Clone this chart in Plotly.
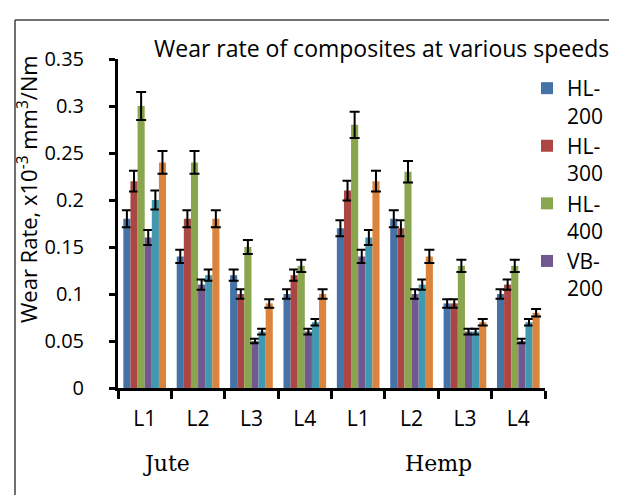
import plotly.graph_objects as go

categories = ["Jute L1", "Jute L2", "Jute L3", "Jute L4", "Hemp L1", "Hemp L2", "Hemp L3", "Hemp L4"]
tick_labels = ["L1", "L2", "L3", "L4", "L1", "L2", "L3", "L4"]
group_labels = ["Jute", "Hemp"]
series_names = ["HL-200", "HL-300", "HL-400", "VB-200", "VB-300", "VB-400"]

hl200 = [0.18, 0.14, 0.12, 0.10, 0.17, 0.18, 0.09, 0.10]
hl300 = [0.22, 0.18, 0.10, 0.12, 0.21, 0.17, 0.09, 0.11]
hl400 = [0.30, 0.24, 0.15, 0.13, 0.28, 0.23, 0.13, 0.13]
vb200 = [0.16, 0.11, 0.05, 0.06, 0.14, 0.10, 0.06, 0.05]
vb300 = [0.20, 0.12, 0.06, 0.07, 0.16, 0.11, 0.06, 0.07]
vb400 = [0.24, 0.18, 0.09, 0.10, 0.22, 0.14, 0.07, 0.08]

err_hl200 = [0.009, 0.007, 0.006, 0.005, 0.0085, 0.009, 0.0045, 0.005]
err_hl300 = [0.011, 0.009, 0.005, 0.006, 0.0105, 0.0085, 0.0045, 0.0055]
err_hl400 = [0.015, 0.012, 0.0075, 0.0065, 0.014, 0.0115, 0.0065, 0.0065]
err_vb200 = [0.008, 0.0055, 0.0025, 0.003, 0.007, 0.005, 0.003, 0.0025]
err_vb300 = [0.010, 0.006, 0.003, 0.0035, 0.008, 0.0055, 0.003, 0.0035]
err_vb400 = [0.012, 0.009, 0.0045, 0.005, 0.011, 0.007, 0.0035, 0.004]

values = [hl200, hl300, hl400, vb200, vb300, vb400]
errors = [err_hl200, err_hl300, err_hl400, err_vb200, err_vb300, err_vb400]
colors = ["#4572A7", "#AA4643", "#89A54E", "#71588F", "#4198AF", "#DB843D"]
legend_shown = [True, True, True, True, False, False]

fig = go.Figure()
for name, v, e, c, show in zip(series_names, values, errors, colors, legend_shown):
    label = name.replace("-", "-<br>")
    fig.add_trace(go.Bar(
        x=categories, y=v, name=label, marker=dict(color=c, line=dict(width=0)),
        error_y=dict(type="data", array=e, visible=True, color="black", thickness=2, width=5),
        showlegend=show,
    ))

PL, PR, PT, PB = 110, 80, 51, 115
W, H = 617, 495
pw = W - PL - PR
ph = H - PT - PB

def px_x(x):
    return (x - PL) / pw

def px_y(y):
    return (H - PB - y) / ph

fig.update_layout(
    width=W, height=H,
    margin=dict(l=PL, r=PR, t=PT, b=PB),
    paper_bgcolor="white", plot_bgcolor="white",
    barmode="group", bargap=0.2, bargroupgap=0,
    font=dict(family="Open Sans", size=20, color="black"),
    showlegend=True,
    legend=dict(x=px_x(519), y=px_y(60), xanchor="left", yanchor="top",
                valign="top", font=dict(size=21), bgcolor="rgba(0,0,0,0)",
                itemwidth=30, tracegroupgap=0),
    xaxis=dict(type="category", tickmode="array", tickvals=categories, ticktext=tick_labels,
               tickson="boundaries", ticks="outside", ticklen=8, tickwidth=3, tickcolor="black",
               showline=True, linewidth=3, linecolor="black", showgrid=False,
               ticklabelstandoff=10, tickfont=dict(size=21)),
    yaxis=dict(range=[0, 0.35], tickvals=[0, 0.05, 0.1, 0.15, 0.2, 0.25, 0.3, 0.35],
               ticktext=["0", "0.05", "0.1", "0.15", "0.2", "0.25", "0.3", "0.35"],
               ticks="outside", ticklen=6, tickwidth=3, tickcolor="black",
               showline=True, linewidth=3, linecolor="black", showgrid=False, zeroline=False,
               ticklabelstandoff=21, tickfont=dict(size=20)),
)

fig.add_annotation(text="Wear rate of composites at various speeds", xref="paper", yref="paper",
                   x=px_x(373), y=px_y(40), xanchor="center", yanchor="middle",
                   showarrow=False, font=dict(size=23))
fig.add_annotation(text="Wear Rate, x10<sup>-3</sup> mm<sup>3</sup>/Nm", xref="paper", yref="paper",
                   x=px_x(19), y=px_y(181), xanchor="center", yanchor="middle", textangle=-90,
                   showarrow=False, font=dict(size=22))
fig.add_annotation(text=group_labels[0], xref="paper", yref="paper", x=px_x(158), y=px_y(455),
                   xanchor="center", yanchor="middle", showarrow=False,
                   font=dict(family="DejaVu Serif", size=22))
fig.add_annotation(text=group_labels[1], xref="paper", yref="paper", x=px_x(430), y=px_y(455),
                   xanchor="center", yanchor="middle", showarrow=False,
                   font=dict(family="DejaVu Serif", size=22))

fig.add_shape(type="line", xref="paper", yref="paper", x0=px_x(7), x1=px_x(620), y0=px_y(12), y1=px_y(12),
              line=dict(color="#404040", width=1.5))
fig.add_shape(type="line", xref="paper", yref="paper", x0=px_x(7), x1=px_x(7), y0=px_y(12), y1=px_y(500),
              line=dict(color="#404040", width=1.5))

fig.write_html("out.html")
